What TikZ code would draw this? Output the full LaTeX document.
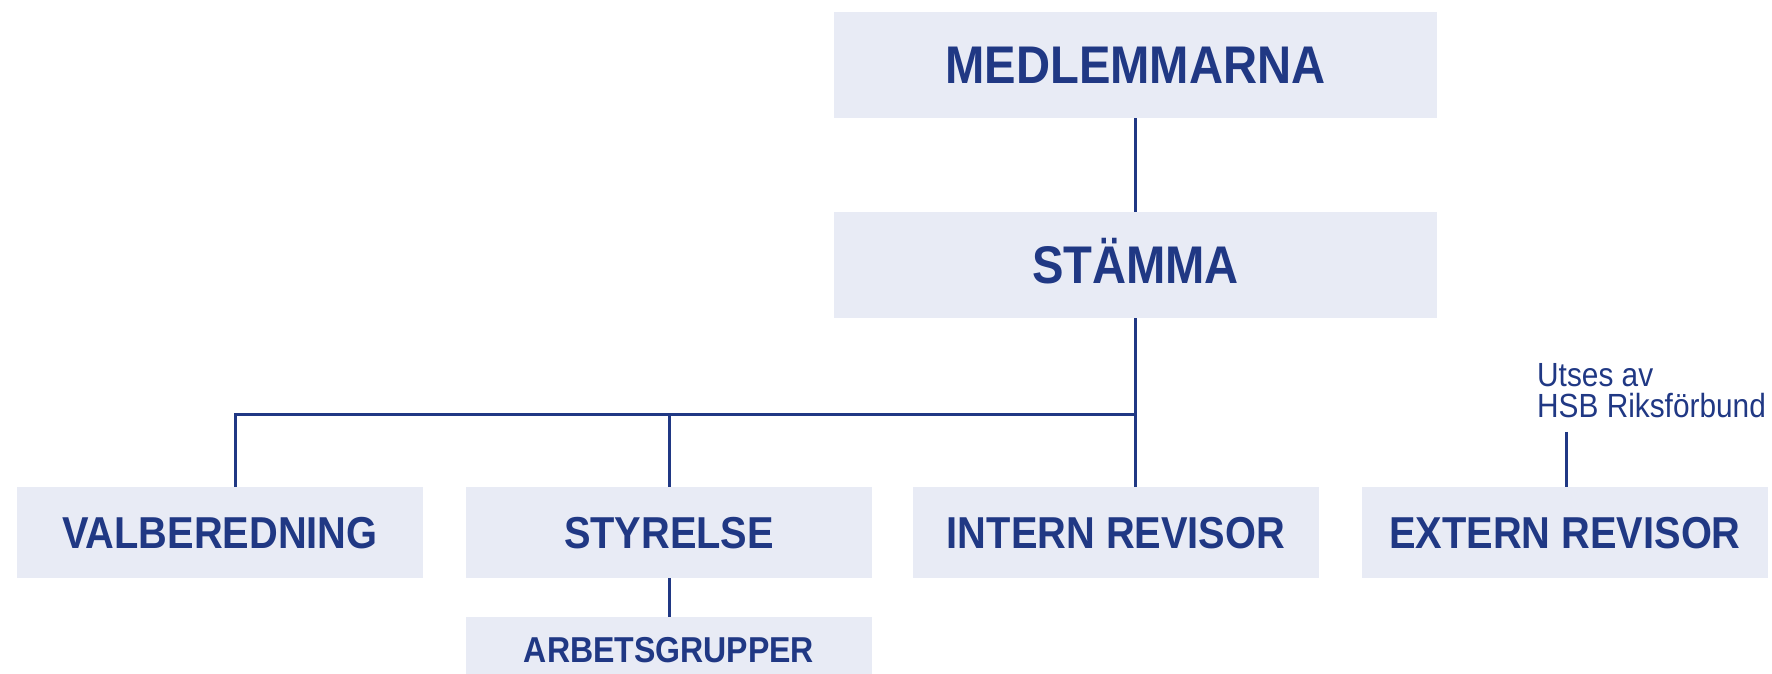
\documentclass[tikz,border=0pt]{standalone}
\usepackage{fontspec}
\setmainfont{Liberation Sans}[FakeStretch=0.89]
\definecolor{navy}{RGB}{32,56,132}
\definecolor{boxfill}{RGB}{232,235,245}
\begin{document}
\begin{tikzpicture}[x=1pt,y=1pt,
  orgbox/.style={fill=boxfill, draw=none, inner sep=0pt, text=navy,
    font=\bfseries\fontsize{44.7}{50}\selectfont,
    minimum width=406pt, minimum height=91pt, text height=32pt, text depth=0pt},
  topbox/.style={orgbox, font=\bfseries\fontsize{53}{60}\selectfont,
    minimum width=603pt, minimum height=106pt, text height=38pt},
  subbox/.style={orgbox, font=\bfseries\fontsize{36}{40}\selectfont,
    minimum height=65pt, text height=25.8pt},
  note/.style={inner sep=0pt, text=navy, align=left,
    font=\fontsize{33.5}{31}\selectfont},
  link/.style={draw=navy, line width=3pt}]
\useasboundingbox (0,0) rectangle (1772,674);
\clip (0,0) rectangle (1772,674);
\node[topbox] (med) at (1135.5,609) {MEDLEMMARNA};
\node[topbox] (stamma) at (1135.5,409) {STÄMMA};
\node[orgbox] (val) at (220,141.5) {VALBEREDNING};
\node[orgbox] (sty) at (669,141.5) {STYRELSE};
\node[orgbox] (int) at (1116,141.5) {INTERN REVISOR};
\node[orgbox] (ext) at (1565,141.5) {EXTERN REVISOR};
\node[subbox] (arb) at (669,24.5) {ARBETSGRUPPER};
\node[note, anchor=south west] (utses) at (1537,256) {Utses av\\HSB Riksförbund};
\coordinate (j) at (1135.5,259);
\coordinate (vj) at (235,259);
\coordinate (nt) at (1566,242);
\path[link] (med.south) -- (stamma.north);
\path[link] (stamma.south) -- (stamma.south |- int.north);
\path[link] (j) -- (vj) -- (vj |- val.north);
\path[link] (sty.north |- j) -- (sty.north);
\path[link] (sty.south) -- (arb.north);
\path[link] (nt) -- (nt |- ext.north);
\end{tikzpicture}
\end{document}
